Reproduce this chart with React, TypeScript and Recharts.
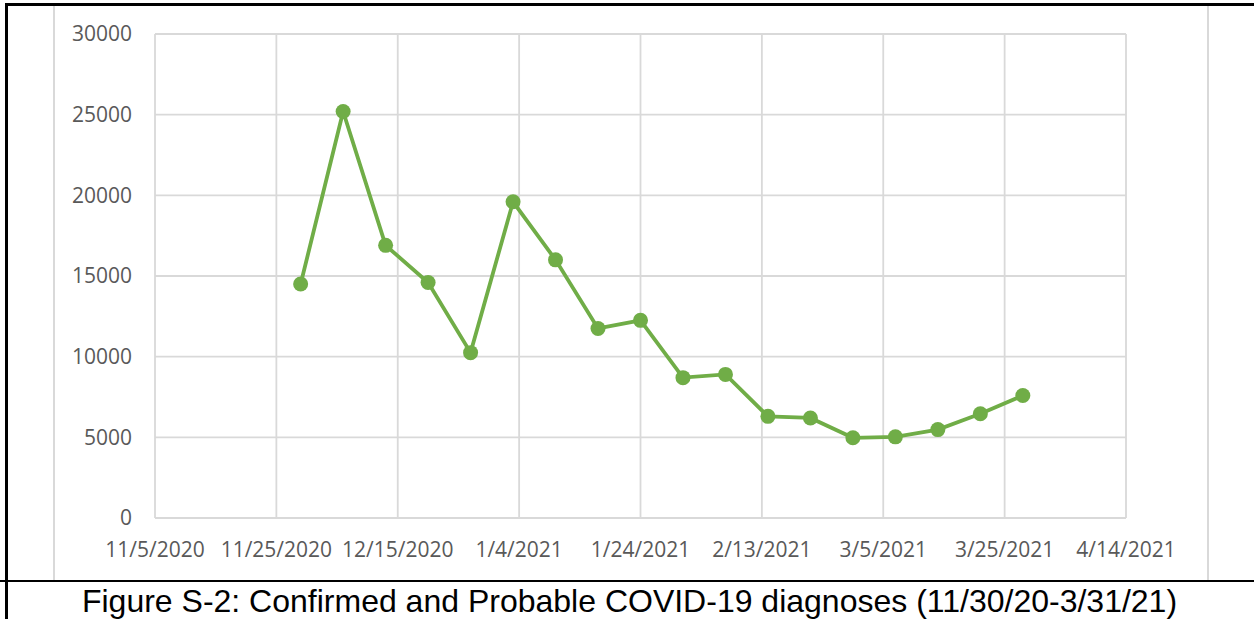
import { LineChart, Line, XAxis, YAxis, CartesianGrid } from 'recharts';

// weekly totals
const weekDates = [
  '11/29/2020', '12/6/2020', '12/13/2020', '12/20/2020', '12/27/2020', '1/3/2021',
  '1/10/2021', '1/17/2021', '1/24/2021', '1/31/2021', '2/7/2021', '2/14/2021',
  '2/21/2021', '2/28/2021', '3/7/2021', '3/14/2021', '3/21/2021', '3/28/2021',
];
const diagnoses = [
  14500, 25200, 16900, 14600, 10250, 19600,
  16000, 11750, 12250, 8700, 8900, 6300,
  6200, 4970, 5030, 5480, 6460, 7590,
];

const tickDates = [
  '11/5/2020', '11/25/2020', '12/15/2020', '1/4/2021', '1/24/2021',
  '2/13/2021', '3/5/2021', '3/25/2021', '4/14/2021',
];
const yTicks = [0, 5000, 10000, 15000, 20000, 25000, 30000];

const GREEN = '#70ad47';
const GRID = '#d9d9d9';
const LABEL = '#595959';

const toDay = (s: string) => {
  const [m, d, y] = s.split('/').map(Number);
  return Date.UTC(y, m - 1, d) / 86400000;
};

const xTicks = tickDates.map(toDay);

export default function App() {
  const data = weekDates.map((d, i) => ({ day: toDay(d), value: diagnoses[i] }));
  const tickStyle = { fill: LABEL, fontSize: 21, fontFamily: '"Open Sans", sans-serif' };

  return (
    <div style={{ position: 'absolute', left: 0, top: 0, width: 1254, height: 619, background: '#fff', overflow: 'hidden' }}>
      {/* chart area frame */}
      <div style={{ position: 'absolute', left: 53, top: 4, width: 1152, height: 574, border: `2px solid ${GRID}` }} />

      <div style={{ position: 'absolute', left: 54, top: 5 }}>
        <LineChart width={1153} height={575} data={data} margin={{ top: 29, right: 81, bottom: 32, left: 0 }}>
          <CartesianGrid stroke={GRID} strokeWidth={1.8} />
          <XAxis
            type="number"
            dataKey="day"
            domain={[xTicks[0], xTicks[xTicks.length - 1]]}
            ticks={xTicks}
            interval={0}
            tickFormatter={(v: number) => tickDates[xTicks.indexOf(v)]}
            tick={tickStyle}
            tickLine={false}
            tickSize={0}
            tickMargin={24}
            axisLine={{ stroke: GRID, strokeWidth: 1.8 }}
            height={30}
          />
          <YAxis
            type="number"
            domain={[0, 30000]}
            ticks={yTicks}
            interval={0}
            tick={tickStyle}
            tickLine={false}
            tickSize={0}
            tickMargin={23}
            axisLine={false}
            width={101}
          />
          <Line
            type="linear"
            dataKey="value"
            stroke={GREEN}
            strokeWidth={3.8}
            dot={{ r: 7.5, fill: GREEN, stroke: 'none' }}
            activeDot={false}
            isAnimationActive={false}
          />
        </LineChart>
      </div>

      <svg width={1254} height={619} style={{ position: 'absolute', left: 0, top: 0, pointerEvents: 'none' }}>
        {/* black frame lines */}
        <rect x={5} y={3} width={1249} height={3} fill="#000" />
        <rect x={5} y={3} width={3} height={616} fill="#000" />
        <rect x={0} y={580} width={1254} height={2} fill="#000" />
        <text
          x={629.5}
          y={612}
          textAnchor="middle"
          fontFamily='"Liberation Sans", Arial, sans-serif'
          fontSize={32}
          fill="#000"
        >
          Figure S-2: Confirmed and Probable COVID-19 diagnoses (11/30/20-3/31/21)
        </text>
      </svg>
    </div>
  );
}
